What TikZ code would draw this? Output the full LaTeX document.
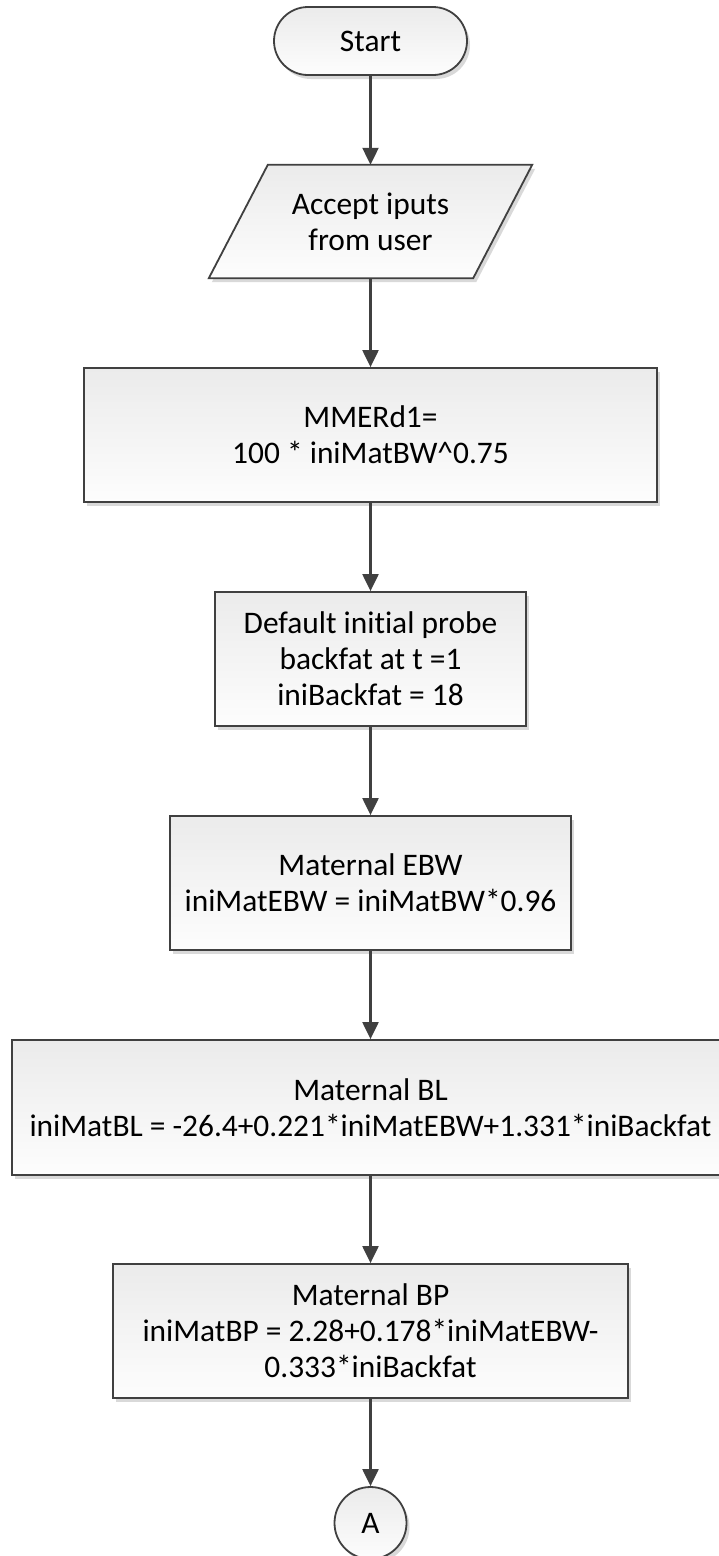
\documentclass[tikz,border=0pt]{standalone}
\usepackage{fontspec}
\setmainfont{Carlito}[Ligatures=NoCommon]
\usetikzlibrary{arrows.meta,shadows}
\pgfdeclarelayer{background}
\pgfsetlayers{background,main}
\definecolor{edge}{RGB}{64,64,64}
\definecolor{filltop}{RGB}{235,235,235}
\definecolor{fillbot}{RGB}{253,253,253}
\tikzset{
  chartfont/.style={font=\fontsize{31.4}{36}\selectfont},
  boxlook/.style={draw=edge, line width=1.8pt, top color=filltop, bottom color=fillbot,
    drop shadow={shadow xshift=3pt, shadow yshift=-4pt, fill=black, opacity=0.15}},
  stepbox/.style={rectangle, boxlook, align=center, inner sep=0pt, chartfont},
  terminal/.style={stepbox, rounded corners=34pt},
  connector/.style={circle, boxlook, inner sep=0pt, minimum size=72pt, chartfont},
  flow/.style={draw=edge, line width=2.2pt, -{Triangle[length=17pt,width=16pt]}},
}
\begin{document}
\begin{tikzpicture}[x=1pt,y=-1pt]
\useasboundingbox (0,0) rectangle (719,1556);

% flow steps
\node[terminal, minimum width=193pt, minimum height=68pt] (start) at (370.5,41) {Start};
\node[chartfont, align=center, inner sep=0pt, minimum width=264pt, minimum height=113pt] (inp) at (370.5,221.5) {Accept iputs\\from user};
\node[stepbox, minimum width=573pt, minimum height=134pt] (mmer) at (370.5,435) {MMERd1=\\100 * iniMatBW\textasciicircum 0.75};
\node[stepbox, minimum width=311pt, minimum height=134pt] (dflt) at (370.5,659) {Default initial probe\\backfat at t =1\\iniBackfat = 18};
\node[stepbox, minimum width=401pt, minimum height=134pt] (ebw) at (370.5,883) {Maternal EBW\\iniMatEBW = iniMatBW*0.96};
\node[stepbox, minimum width=717pt, minimum height=135pt] (bl) at (370.5,1107.5) {Maternal BL\\iniMatBL = -26.4+0.221*iniMatEBW+1.331*iniBackfat};
\node[stepbox, minimum width=515pt, minimum height=134pt] (bp) at (370.5,1331) {Maternal BP\\iniMatBP = 2.28+0.178*iniMatEBW-\\0.333*iniBackfat};
\node[connector] (conA) at (370.5,1523) {A};

% input parallelogram behind its label
\begin{pgfonlayer}{background}
  \path[boxlook] ([xshift=29.5pt]inp.north west) -- ([xshift=29.5pt]inp.north east)
    -- ([xshift=-29.5pt]inp.south east) -- ([xshift=-29.5pt]inp.south west) -- cycle;
\end{pgfonlayer}

% connectors
\draw[flow] (start) -- (inp);
\draw[flow] (inp) -- (mmer);
\draw[flow] (mmer) -- (dflt);
\draw[flow] (dflt) -- (ebw);
\draw[flow] (ebw) -- (bl);
\draw[flow] (bl) -- (bp);
\draw[flow] (bp) -- (conA);
\end{tikzpicture}
\end{document}
